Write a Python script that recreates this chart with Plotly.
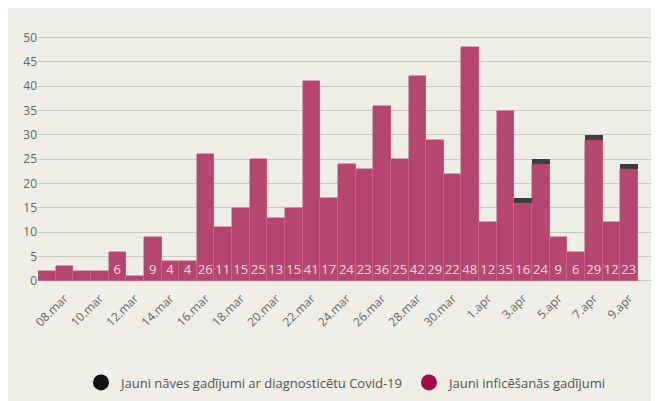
import plotly.graph_objects as go

dates = ["07.mar","08.mar","09.mar","10.mar","11.mar","12.mar","13.mar","14.mar","15.mar","16.mar",
         "17.mar","18.mar","19.mar","20.mar","21.mar","22.mar","23.mar","24.mar","25.mar","26.mar",
         "27.mar","28.mar","29.mar","30.mar","31.mar","1.apr","2.apr","3.apr","4.apr","5.apr",
         "6.apr","7.apr","8.apr","9.apr"]
cases = [2,3,2,2,6,1,9,4,4,26,11,15,25,13,15,41,17,24,23,36,25,42,29,22,48,12,35,16,24,9,6,29,12,23]
deaths = [0]*27 + [1,1,0,0,1,0,1]
tick_labels = dates[1::2]

pink = "#b5466f"
dark = "#3d3d3d"
bg = "#eeede6"

fig = go.Figure()
fig.add_bar(x=dates, y=cases, marker=dict(color=pink, line=dict(color="#c86a8c", width=0.6)),
            text=[str(v) if v >= 4 else "" for v in cases], textposition="inside",
            insidetextanchor="start", textangle=0, constraintext="none",
            textfont=dict(color="#f2dbe3", size=13, family="Open Sans"), showlegend=False)
fig.add_bar(x=dates, y=deaths, marker=dict(color=dark, line=dict(width=0)), showlegend=False)
fig.add_scatter(x=[None], y=[None], mode="markers", name="Jauni inficēšanās gadījumi",
                marker=dict(color="#a00c4a", size=18, symbol="circle"))
fig.add_scatter(x=[None], y=[None], mode="markers", name="Jauni nāves gadījumi ar diagnosticētu Covid-19",
                marker=dict(color="#111111", size=18, symbol="circle"))

fig.update_layout(
    width=659, height=401, barmode="stack", bargap=0,
    paper_bgcolor=bg, plot_bgcolor=bg,
    margin=dict(l=30, r=15, t=15, b=95),
    font=dict(family="Open Sans", color="#666666", size=12),
    xaxis=dict(tickmode="array", tickvals=tick_labels, ticktext=tick_labels, tickangle=-45,
               showgrid=False, showline=False, ticks="", range=[-0.5, 33.5+0.8]),
    yaxis=dict(range=[-1.5, 53], dtick=5, gridcolor="#c9c8c1", zeroline=False, showline=False,
               ticks="", tickfont=dict(size=12)),
    legend=dict(orientation="h", x=0.07, y=-0.3, xanchor="left", yanchor="top",
                font=dict(size=13, color="#555555"), itemsizing="trace"),
)
fig.write_html("out.html")
